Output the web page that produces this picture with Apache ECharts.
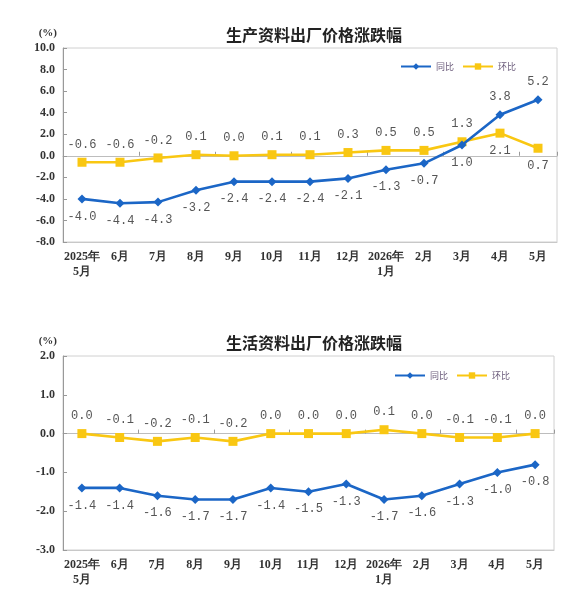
<!DOCTYPE html>
<html>
<head>
<meta charset="utf-8">
<script src="https://cdn.jsdelivr.net/npm/echarts@6/dist/echarts.min.js"></script>
<style>html,body{margin:0;padding:0;background:#fff;}#c{width:581px;height:611px;}</style>
</head>
<body>
<div id="c"></div>
<script>
var categories = ['2025年\n5月','6月','7月','8月','9月','10月','11月','12月','2026年\n1月','2月','3月','4月','5月'];
var title1 = '生产资料出厂价格涨跌幅';
var title2 = '生活资料出厂价格涨跌幅';
var seriesNames = ['同比','环比'];
var prodYoY = [-4.0,-4.4,-4.3,-3.2,-2.4,-2.4,-2.4,-2.1,-1.3,-0.7,1.0,3.8,5.2];
var prodMoM = [-0.6,-0.6,-0.2,0.1,0.0,0.1,0.1,0.3,0.5,0.5,1.3,2.1,0.7];
var consYoY = [-1.4,-1.4,-1.6,-1.7,-1.7,-1.4,-1.5,-1.3,-1.7,-1.6,-1.3,-1.0,-0.8];
var consMoM = [0.0,-0.1,-0.2,-0.1,-0.2,0.0,0.0,0.0,0.1,0.0,-0.1,-0.1,0.0];
var axis1 = {min:-8, max:10, interval:2};
var axis2 = {min:-3, max:2, interval:1};

var BLUE = '#1b66c6', YELLOW = '#f9c712';
var serif = 'Liberation Serif';
var labelFont = 'Liberation Mono';

function pointData(vals, other) {
  return vals.map(function (v, i) {
    var above = v >= other[i];
    return {value: v, label: {position: above ? 'top' : 'bottom'}};
  });
}

function makeSeries(name, vals, other, color, symbol, xi, yi) {
  return {
    name: name, type: 'line', xAxisIndex: xi, yAxisIndex: yi,
    data: pointData(vals, other),
    symbol: symbol, symbolSize: 9,
    lineStyle: {color: color, width: 2.6},
    itemStyle: {color: color},
    label: {show: true, distance: 7, fontFamily: labelFont, fontSize: 12, color: '#555',
      formatter: function (p) { return p.value.toFixed(1); }},
    emphasis: {disabled: true}, animation: false, z: name === '同比' ? 3 : 2
  };
}

function xAxes(gi) {
  return [
    {type: 'category', gridIndex: gi, data: categories, boundaryGap: true,
      axisLine: {onZero: true, lineStyle: {color: '#bdbdbd', width: 1}},
      axisTick: {show: true, inside: true, length: 4, lineStyle: {color: '#999'}},
      axisLabel: {show: false}, splitLine: {show: false}},
    {type: 'category', gridIndex: gi, data: categories, boundaryGap: true, position: 'bottom',
      axisLine: {onZero: false, lineStyle: {color: '#c8c8c8'}},
      axisTick: {show: false},
      axisLabel: {fontFamily: serif, fontWeight: 'bold', fontSize: 12, color: '#333', margin: 7, lineHeight: 15, interval: 0},
      splitLine: {show: false}}
  ];
}

function yAxis(gi, a) {
  return {type: 'value', gridIndex: gi, min: a.min, max: a.max, interval: a.interval,
    name: '(%)', nameLocation: 'end', nameGap: 9,
    nameTextStyle: {fontFamily: serif, fontWeight: 'bold', fontSize: 11, color: '#333', align: 'right', padding: [0, 6, 0, 0]},
    axisLine: {show: true, lineStyle: {color: '#999'}},
    axisTick: {show: true, inside: true, length: 4, lineStyle: {color: '#999'}},
    axisLabel: {fontFamily: serif, fontWeight: 'bold', fontSize: 12, color: '#333', margin: 8,
      formatter: function (v) { return v.toFixed(1); }},
    splitLine: {show: false}};
}

var x1 = xAxes(0), x2 = xAxes(1);
var titleStyle = {fontFamily: 'Noto Sans CJK SC', fontSize: 16, fontWeight: 600, color: '#222'};
var option = {
  backgroundColor: '#fff',
  animation: false,
  title: [
    {text: title1, left: 309, top: 22, textAlign: 'center', textStyle: titleStyle},
    {text: title2, left: 309, top: 330, textAlign: 'center', textStyle: titleStyle}
  ],
  grid: [
    {left: 63, top: 48, right: 24, bottom: 369, show: true, borderColor: '#d0d0d0', borderWidth: 1},
    {left: 63, top: 356, right: 27, bottom: 61, show: true, borderColor: '#d0d0d0', borderWidth: 1}
  ],
  xAxis: [x1[0], x1[1], x2[0], x2[1]],
  yAxis: [yAxis(0, axis1), yAxis(1, axis2)],
  series: [
    makeSeries(seriesNames[0], prodYoY, prodMoM, BLUE, 'diamond', 0, 0),
    makeSeries(seriesNames[1], prodMoM, prodYoY, YELLOW, 'rect', 0, 0),
    makeSeries(seriesNames[0], consYoY, consMoM, BLUE, 'diamond', 2, 1),
    makeSeries(seriesNames[1], consMoM, consYoY, YELLOW, 'rect', 2, 1)
  ]
};
var legendBase = {orient: 'horizontal', itemWidth: 30, itemHeight: 8, itemGap: 8,
  textStyle: {fontFamily: 'Noto Sans CJK SC', fontSize: 9, color: '#6a5a7a'}, data: seriesNames, selectedMode: false};
option.legend = [
  Object.assign({}, legendBase, {right: 60, top: 57}),
  Object.assign({}, legendBase, {right: 66, top: 366})
];
var chart = echarts.init(document.getElementById('c'), null, {renderer: 'canvas'});
chart.setOption(option);
</script>
</body>
</html>
